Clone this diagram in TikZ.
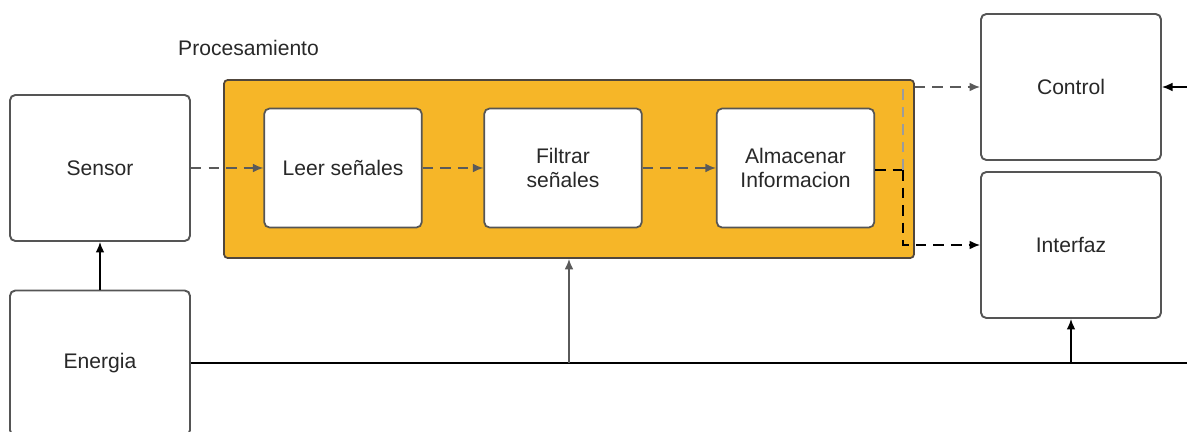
\documentclass[tikz,border=0pt]{standalone}
\usepackage{fontspec}
\setmainfont{Liberation Sans}
\usetikzlibrary{positioning, arrows.meta, calc}
\definecolor{boxgray}{RGB}{85, 85, 85}
\definecolor{linegray}{RGB}{90, 90, 90}
\definecolor{procorange}{RGB}{246, 182, 40}
\definecolor{procborder}{RGB}{80, 70, 60}
\definecolor{textgray}{RGB}{40, 40, 40}

\begin{document}
\begin{tikzpicture}[
    x=0.02cm, y=-0.02cm,
    font=\fontsize{12}{14}\selectfont,
    block/.style={rectangle, draw=boxgray, fill=white, rounded corners=3pt, line width=1.1pt, minimum width=3.6cm, minimum height=2.92cm, align=center, text=textgray},
    inner/.style={rectangle, draw=boxgray, fill=white, rounded corners=3pt, line width=1pt, minimum width=3.15cm, minimum height=2.38cm, align=center, text=textgray},
    procbox/.style={rectangle, draw=procborder, fill=procorange, rounded corners=2pt, line width=1pt, minimum width=13.8cm, minimum height=3.56cm},
    dataflow/.style={-{Latex[length=6pt, width=5pt]}, linegray, dashed, dash pattern=on 6pt off 4pt, line width=0.8pt},
    powerflow/.style={-{Latex[length=6pt, width=5pt]}, black, line width=0.9pt}
]
    \useasboundingbox (0, 0) rectangle (1187, 432);

    % =========================================================================
    % LEFT: SENSOR AND ENERGY
    % =========================================================================
    \node[block] (sensor) at (100, 168) {Sensor};
    \node[block, minimum height=2.9cm] (energia) at (100, 363) {Energia};

    % =========================================================================
    % MIDDLE: PROCESSING BLOCK
    % =========================================================================
    \node[procbox] (proc) at (569, 169) {};
    \node[anchor=west, text=textgray] (proclabel) at (172, 48) {Procesamiento};

    \node[inner] (leer) at (343, 168) {Leer señales};
    \node[inner] (filtrar) at (563, 168) {Filtrar\\señales};
    \node[inner] (almacenar) at (795.5, 168) {Almacenar\\Informacion};

    % =========================================================================
    % RIGHT: CONTROL AND INTERFACE
    % =========================================================================
    \node[block] (control) at (1071, 87) {Control};
    \node[block] (interfaz) at (1071, 245) {Interfaz};

    % Data path
    \draw[dataflow] (sensor.east) -- (leer.west);
    \draw[dataflow] (leer.east) -- (filtrar.west);
    \draw[dataflow] (filtrar.east) -- (almacenar.west);

    \coordinate (split) at (903, 170);
    \draw[black, dashed, dash pattern=on 6pt off 4pt, line width=0.8pt] (almacenar.east |- split) -- (split);
    \draw[linegray!60, dashed, dash pattern=on 6pt off 4pt, line width=0.7pt] (split) -- (split |- control.west);
    \draw[dataflow] (proc.east |- control.west) -- (control.west);
    \draw[dataflow, black] (split) |- (interfaz.west);

    % Power bus
    \coordinate (busend) at (1187, 363);
    \coordinate (busup) at (proc.south |- busend);
    \coordinate (busif) at (interfaz.south |- busend);
    \draw[black, line width=0.9pt] (energia.east) -- (busend);
    \draw[powerflow] (energia.north) -- (sensor.south);
    \draw[powerflow, linegray] (busup) -- (proc.south);
    \draw[powerflow] (busif) -- (interfaz.south);
    \draw[powerflow] (1187, 87) -- (control.east);

\end{tikzpicture}
\end{document}
